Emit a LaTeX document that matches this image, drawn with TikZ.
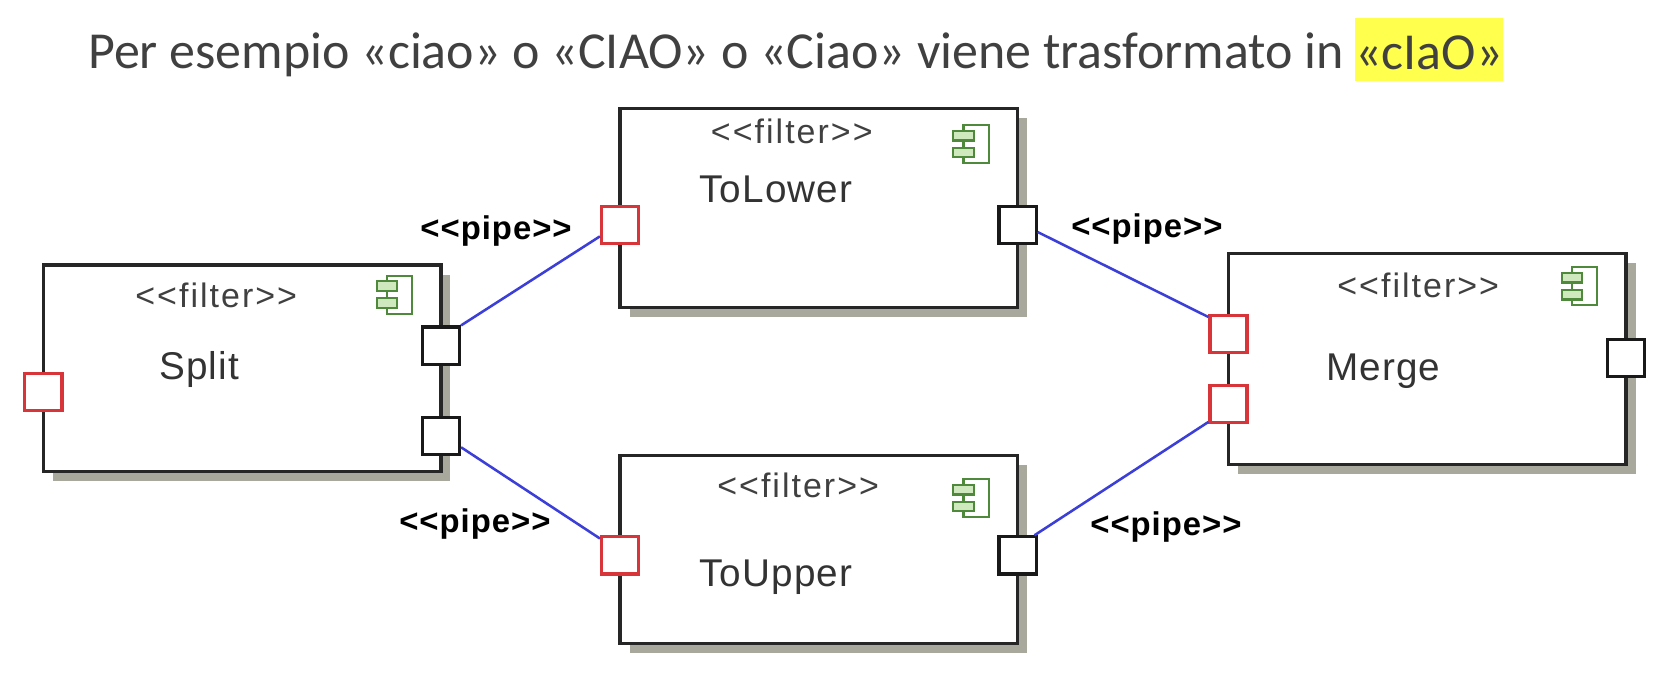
\documentclass[tikz,border=0pt]{standalone}
\usepackage{fontspec}
\setmainfont{Carlito}
\newfontfamily\diagfont[LetterSpace=3]{Liberation Sans}
\newfontfamily\stereofont[LetterSpace=6]{Liberation Sans}
\definecolor{shadowc}{HTML}{A9A89C}
\definecolor{portred}{HTML}{D8353A}
\definecolor{pipeblue}{HTML}{3B3FD8}
\definecolor{hl}{HTML}{FFFF4D}
\definecolor{headc}{HTML}{404040}
\definecolor{iconc}{HTML}{4F8A3C}
\definecolor{iconf}{HTML}{CFE8BE}
\tikzset{
  x=1pt,y=-1pt,
  compbox/.style={draw=black!85,line width=3pt,fill=white,rectangle,inner sep=0pt,outer sep=0pt,anchor=north west},
  shadowbox/.style={fill=shadowc,draw=none,rectangle,inner sep=0pt,outer sep=0pt,anchor=north west},
  inport/.style={draw=portred,line width=3pt,fill=white,rectangle,inner sep=0pt,minimum size=35pt},
  outport/.style={draw=black!90,line width=3pt,fill=white,rectangle,inner sep=0pt,minimum size=35pt},
  pipeline/.style={draw=pipeblue,line width=2.4pt},
  stereo/.style={font=\stereofont\fontsize{32}{35}\selectfont,text=black!75,inner sep=0pt},
  compname/.style={font=\diagfont\fontsize{36.5}{40}\selectfont,text=black!80,inner sep=0pt},
  pipelabel/.style={font=\diagfont\bfseries\fontsize{31}{34}\selectfont,text=black,inner sep=0pt},
  iconbody/.style={draw=iconc,line width=2pt,fill=white,rectangle,inner sep=0pt,minimum width=24pt,minimum height=36pt},
  icontab/.style={draw=iconc,line width=2pt,fill=iconf,rectangle,inner sep=0pt,minimum width=19pt,minimum height=9pt},
}
\begin{document}
\begin{tikzpicture}
\useasboundingbox (0,0) rectangle (1568,638);
% heading
\node[anchor=base west,inner sep=0pt,text=headc,font=\fontsize{49}{54}\selectfont] (head) at (83,65) {Per esempio «ciao» o «CIAO» o «Ciao» viene trasformato in};
\node[fill=hl,inner sep=0pt,anchor=north west,text=headc,font=\fontsize{49}{54}\selectfont,text width=140pt,align=center,text height=48pt,text depth=11pt] (hlt) at (1278,17) {«cIaO»};
% shadows
\node[shadowbox,minimum width=375pt,minimum height=195pt] (splits) at (50,259) {};
\node[shadowbox,minimum width=375pt,minimum height=188pt] (lowers) at (594,111) {};
\node[shadowbox,minimum width=375pt,minimum height=177pt] (uppers) at (594,439) {};
\node[shadowbox,minimum width=375pt,minimum height=199pt] (merges) at (1168,248) {};
% boxes
\node[compbox,minimum width=375pt,minimum height=195pt] (split) at (41,250) {};
\node[compbox,minimum width=375pt,minimum height=188pt] (lower) at (585,102) {};
\node[compbox,minimum width=375pt,minimum height=177pt] (upper) at (585,430) {};
\node[compbox,minimum width=375pt,minimum height=199pt] (merge) at (1159,239) {};
% stereotypes
\node[stereo] (st1) at (204,279) {<{}<filter>{}>};
\node[stereo] (st2) at (747,124) {<{}<filter>{}>};
\node[stereo] (st3) at (753,458) {<{}<filter>{}>};
\node[stereo] (st4) at (1338,269) {<{}<filter>{}>};
% names
\node[compname] (n1) at (188,349) {Split};
\node[compname] (n2) at (732,179) {ToLower};
\node[compname] (n3) at (732,545) {ToUpper};
\node[compname] (n4) at (1305,350) {Merge};
% icons
\foreach \nm/\cx/\cy in {a/377/278,b/921/136,c/921/470,d/1495/270}{
  \node[iconbody] (ic\nm) at (\cx,\cy) {};
  \node[icontab] (ic\nm t) at (\cx-12,\cy-8) {};
  \node[icontab] (ic\nm u) at (\cx-12,\cy+8) {};
}
% ports
\node[inport] (sin) at (41,370) {};
\node[outport] (so1) at (416,326) {};
\node[outport] (so2) at (416,411) {};
\node[inport] (lin) at (585,212) {};
\node[outport] (lout) at (960,212) {};
\node[inport] (uin) at (585,524) {};
\node[outport] (uout) at (960,524) {};
\node[inport] (min1) at (1159,315) {};
\node[inport] (min2) at (1159,381) {};
\node[outport] (mout) at (1534,338) {};
% connectors
\draw[pipeline] (so1.45) -- (lin.210);
\draw[pipeline] (so2.-30) -- (uin.140);
\draw[pipeline] (lout.-20) -- (min1.140);
\draw[pipeline] (uout.50) -- (min2.222);
% labels
\node[pipelabel] (p1) at (468,218) {<{}<pipe>{}>};
\node[pipelabel] (p2) at (448,494) {<{}<pipe>{}>};
\node[pipelabel] (p3) at (1082,216) {<{}<pipe>{}>};
\node[pipelabel] (p4) at (1100,497) {<{}<pipe>{}>};
\end{tikzpicture}
\end{document}
